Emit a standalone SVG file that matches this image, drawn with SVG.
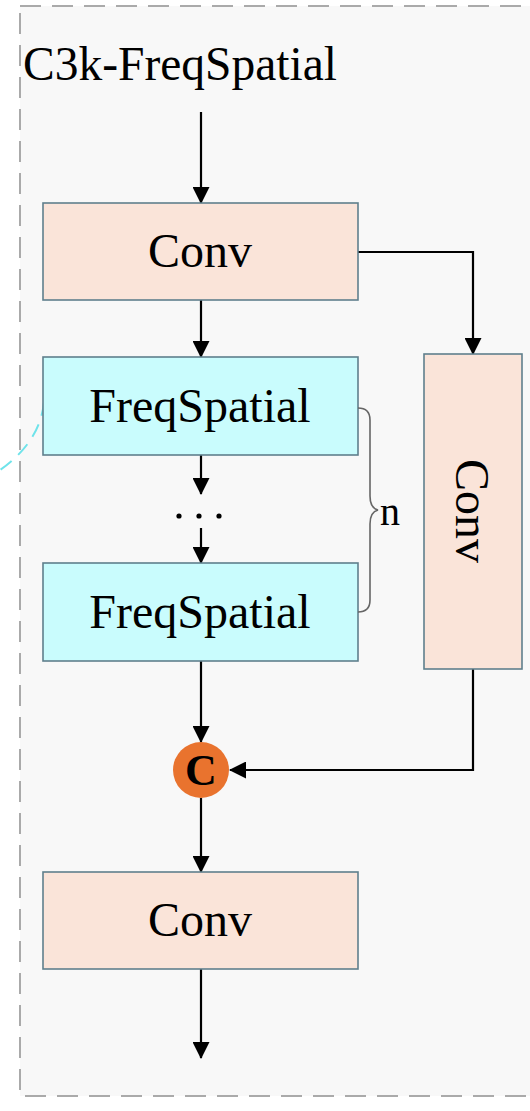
<svg xmlns="http://www.w3.org/2000/svg" width="530" height="1111" viewBox="0 0 530 1111">
  <style>
    .lbl { font-family: "Liberation Serif", "Times New Roman", serif; font-size: 48px; fill: #000; text-anchor: middle; }
    .conv { fill: #fae4d9; stroke: #5f7f8c; stroke-width: 1.6; }
    .freq { fill: #c9fcfd; stroke: #5f7f8c; stroke-width: 1.6; }
    .wire { fill: none; stroke: #000; stroke-width: 2.2; }
  </style>
  <defs>
    <marker id="arrow" viewBox="0 0 17 17" refX="16" refY="8.5" markerWidth="17" markerHeight="17" markerUnits="userSpaceOnUse" orient="auto">
      <path d="M0,0 L17,8.5 L0,17 Z" fill="#000"/>
    </marker>
  </defs>

  <rect x="0" y="0" width="530" height="1111" fill="#ffffff"/>
  <!-- dashed module frame -->
  <rect id="frame" x="20" y="6" width="540" height="1090" fill="#f8f8f8" stroke="#aaaaaa" stroke-width="2" stroke-dasharray="21 11"/>

  <!-- link from the outer figure -->
  <path d="M44,402 Q40,442 0,470" fill="none" stroke="#6fe3ea" stroke-width="2" stroke-dasharray="14 9"/>

  <text id="title" x="23" y="80" font-family="Liberation Serif, Times New Roman, serif" font-size="47.5" fill="#000">C3k-FreqSpatial</text>

  <g id="connectors">
    <path class="wire" d="M201,112 V203" marker-end="url(#arrow)"/>
    <path class="wire" d="M201,300 V357" marker-end="url(#arrow)"/>
    <path class="wire" d="M201,455 V494" marker-end="url(#arrow)"/>
    <path class="wire" d="M201,528 V563" marker-end="url(#arrow)"/>
    <path class="wire" d="M201,661 V742" marker-end="url(#arrow)"/>
    <path class="wire" d="M201,798 V872" marker-end="url(#arrow)"/>
    <path class="wire" d="M201,969 V1058" marker-end="url(#arrow)"/>
    <path class="wire" d="M358,252 H473 V354" marker-end="url(#arrow)"/>
    <path class="wire" d="M473,669 V770 H230" marker-end="url(#arrow)"/>
  </g>

  <g id="conv-in">
    <rect class="conv" x="43" y="203" width="315" height="97"/>
    <text class="lbl" x="200" y="267">Conv</text>
  </g>

  <g id="freq-1">
    <rect class="freq" x="43" y="357" width="315" height="98"/>
    <text class="lbl" x="200" y="422">FreqSpatial</text>
  </g>

  <g id="ellipsis">
    <circle cx="179" cy="516" r="2.6" fill="#000"/>
    <circle cx="199" cy="516" r="2.6" fill="#000"/>
    <circle cx="219" cy="516" r="2.6" fill="#000"/>
  </g>

  <g id="freq-n">
    <rect class="freq" x="43" y="563" width="315" height="98"/>
    <text class="lbl" x="200" y="628">FreqSpatial</text>
  </g>

  <g id="repeat-brace">
    <path d="M358,408 Q370,408 370,420 V496 Q370,508 378,510 Q370,512 370,524 V600 Q370,612 358,612" fill="none" stroke="#666" stroke-width="1.6"/>
    <text x="380" y="525" font-family="Liberation Serif, Times New Roman, serif" font-size="40" fill="#000">n</text>
  </g>

  <g id="conv-side">
    <rect class="conv" x="424" y="354" width="98" height="315"/>
    <text class="lbl" transform="translate(456,511) rotate(90)" x="0" y="0">Conv</text>
  </g>

  <g id="concat">
    <circle cx="201" cy="770" r="28" fill="#e9732e"/>
    <text x="201" y="785" font-family="Liberation Serif, Times New Roman, serif" font-size="44" font-weight="bold" fill="#000" text-anchor="middle">C</text>
  </g>

  <g id="conv-out">
    <rect class="conv" x="43" y="872" width="315" height="97"/>
    <text class="lbl" x="200" y="936">Conv</text>
  </g>
</svg>
